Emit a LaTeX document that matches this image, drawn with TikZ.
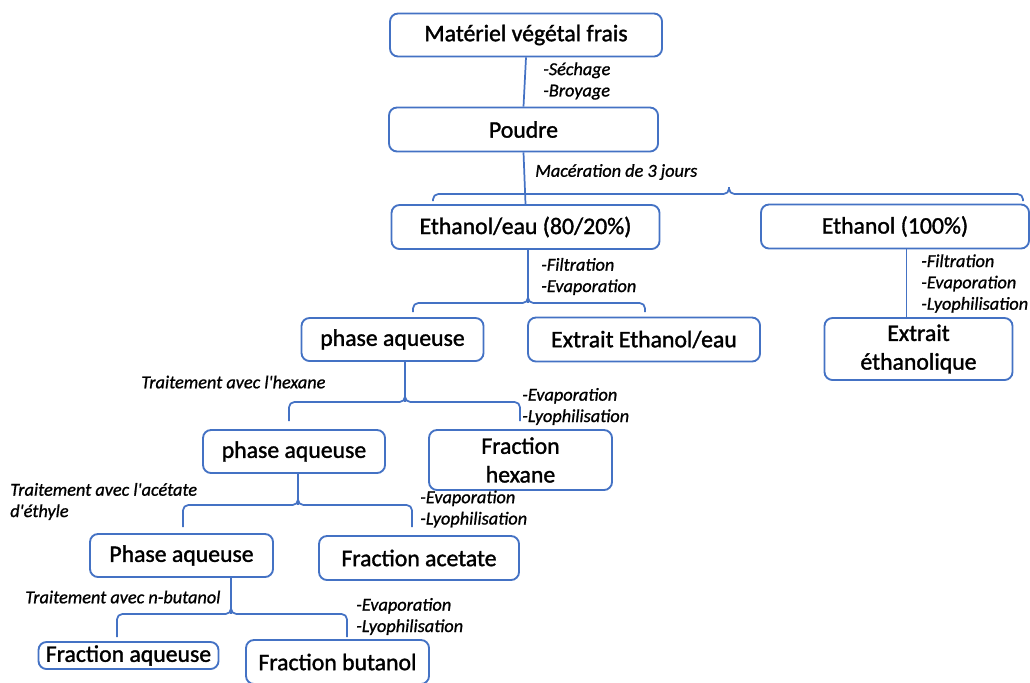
\documentclass[tikz,border=0pt]{standalone}
\usepackage{fontspec}
\setmainfont{Carlito}
\newfontface\boxfont{Carlito}[FakeBold=1.4]
\newfontface\notefont{Carlito Italic}[FakeBold=1]
\usetikzlibrary{positioning}
\definecolor{boxblue}{RGB}{68,114,196}
\tikzset{
  box/.style={draw=boxblue, line width=1.4pt, rounded corners=6pt, align=center,
    inner sep=0pt, font=\boxfont\fontsize{17.8}{21.5}\selectfont},
  note/.style={anchor=west, align=left, inner sep=0pt,
    font=\notefont\fontsize{13.7}{16}\selectfont},
  link/.style={draw=boxblue, line width=1.3pt, rounded corners=4pt}
}

\begin{document}
\begin{tikzpicture}[x=0.75pt,y=-0.75pt]
\useasboundingbox (0,0) rectangle (1030,682);

% Boxes
\node[box,minimum width=204pt,minimum height=32.25pt] (mvf) at (526,35) {Matériel végétal frais};
\node[box,minimum width=201.75pt,minimum height=33pt] (poudre) at (523.5,129.5) {Poudre};
\node[box,minimum width=201pt,minimum height=33pt] (ee) at (525.5,227) {Ethanol/eau (80/20\%)};
\node[box,minimum width=201pt,minimum height=33pt] (e100) at (895,226.5) {Ethanol (100\%)};
\node[box,minimum width=136.5pt,minimum height=32.25pt] (pa1) at (392.5,339.5) {phase aqueuse};
\node[box,minimum width=174pt,minimum height=33pt] (eee) at (644,339.5) {Extrait Ethanol/eau};
\node[box,minimum width=141pt,minimum height=46.5pt] (eeth) at (918.5,349) {Extrait\\éthanolique};
\node[box,minimum width=136.5pt,minimum height=32.25pt] (pa2) at (294,451.5) {phase aqueuse};
\node[box,minimum width=137.25pt,minimum height=45pt] (fhex) at (520.5,460) {Fraction\\hexane};
\node[box,minimum width=137.25pt,minimum height=32.25pt] (pa3) at (181.5,555.5) {Phase aqueuse};
\node[box,minimum width=150pt,minimum height=33pt] (facet) at (419,558) {Fraction acetate};
\node[box,minimum width=135pt,minimum height=20.25pt] (faq) at (128.5,655.5) {Fraction aqueuse};
\node[box,minimum width=137.25pt,minimum height=33pt] (fbut) at (337.5,662) {Fraction butanol};

% Labels
\node[note] (n1) at (543,81) {-Séchage\\-Broyage};
\node[note] (n2) at (535,172) {Macération de 3 jours};
\node[note] (n3) at (541,276.5) {-Filtration\\-Evaporation};
\node[note] (n4) at (921,283.5) {-Filtration\\-Evaporation\\-Lyophilisation};
\node[note] (n5) at (141,382) {Traitement avec l'hexane};
\node[note] (n6) at (522,406.5) {-Evaporation\\-Lyophilisation};
\node[note] (n7) at (10,501.5) {Traitement avec l'acétate\\d'éthyle};
\node[note] (n8) at (420,509) {-Evaporation\\-Lyophilisation};
\node[note] (n9) at (25,597) {Traitement avec n-butanol};
\node[note] (n10) at (356,616.5) {-Evaporation\\-Lyophilisation};

% Brace points
\coordinate (b1c) at (729,194); \coordinate (b1l) at (433,201); \coordinate (b1r) at (1023,201);
\coordinate (b2c) at (528,303); \coordinate (b2l) at (413,312); \coordinate (b2r) at (645,312);
\coordinate (b3c) at (405,402); \coordinate (b3l) at (289,421); \coordinate (b3r) at (520,421);
\coordinate (b4c) at (298,505); \coordinate (b4l) at (183,527); \coordinate (b4r) at (412,527);
\coordinate (b5c) at (231,614); \coordinate (b5l) at (117,637); \coordinate (b5r) at (347,637);

% Connectors
\draw[link] (mvf.south) -- (poudre.north);
\draw[link] (poudre.south) -- (ee.north);
\draw[link] (b1l) |- (b1c) -- ++(0,-7);
\draw[link] (b1r) |- (b1c) -- ++(0,-7);
\draw[link] (e100.south -| eeth.north) ++(-12,0) -- ([xshift=-9pt]eeth.north);
\foreach \b/\p in {b2/ee,b3/pa1,b4/pa2,b5/pa3}{
  \draw[link] (\b c |- \p.south) -- (\b c);
  \draw[link] (\b l) |- (\b c) -- ++(0,-10);
  \draw[link] (\b r) |- (\b c) -- ++(0,-10);
}
\end{tikzpicture}
\end{document}
